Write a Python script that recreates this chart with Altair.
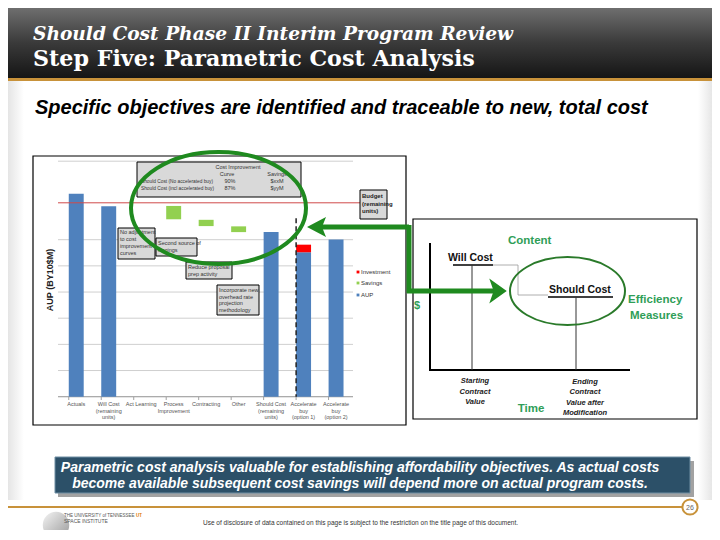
import altair as alt
import pandas as pd

# ---------------- data ----------------
categories = [
    "Actuals",
    "Will Cost\n(remaining\nunits)",
    "Act Learning",
    "Process\nImprovement",
    "Contracting",
    "Other",
    "Should Cost\n(remaining\nunits)",
    "Accelerate\nbuy\n(option 1)",
    "Accelerate\nbuy\n(option 2)",
]
bar_category = [categories[0], categories[1], categories[3], categories[4],
                categories[5], categories[6], categories[7], categories[7],
                categories[8]]
bar_start = [0, 0, 7.29, 6.76, 6.51, 0, 0, 5.52, 0]
bar_end = [7.76, 7.28, 6.78, 6.52, 6.29, 6.29, 5.52, 5.81, 6.01]
bar_series = ["AUP", "AUP", "Savings", "Savings", "Savings", "AUP", "AUP",
              "Investment", "AUP"]
series_names = ["Investment", "Savings", "AUP"]
series_colors = ["#ff0000", "#92d050", "#4f81bd"]
grid_values = [0, 1, 2, 3, 4, 5, 6, 9]
budget_value = 7.41
divider_top = 6.82

# ---------------- layout helpers ----------------
W, H = 704, 522
OFF = 8
one = pd.DataFrame({"k": [0]})
GREEN = "#1f8a1f"
TGREEN = "#2f9e57"


def X(v):
    return alt.value(v - OFF)


def Y(v):
    return alt.value(v - OFF)


def rect(x0, y0, x1, y1, **mk):
    return alt.Chart(one).mark_rect(**mk).encode(x=X(x0), x2=X(x1), y=Y(y0), y2=Y(y1))


def seg(x0, y0, x1, y1, **mk):
    return alt.Chart(one).mark_rule(**mk).encode(x=X(x0), x2=X(x1), y=Y(y0), y2=Y(y1))


def txt(x, y, s, **mk):
    mk.setdefault("font", "Liberation Sans")
    mk.setdefault("align", "left")
    mk.setdefault("baseline", "alphabetic")
    return alt.Chart(one).mark_text(lineBreak="\n", **mk).encode(
        x=X(x), y=Y(y), text=alt.value(s))


def sym(x, y, shape, size, **mk):
    return alt.Chart(one).mark_point(shape=shape, size=size, opacity=1, **mk).encode(
        x=X(x), y=Y(y))


layers = []

# slide background shading on the sides
layers.append(rect(0, 80, 24, 500, fill=alt.LinearGradient(
    gradient="linear", x1=0, x2=1, y1=0, y2=0,
    stops=[alt.GradientStop(offset=0, color="#d8d8d8"),
           alt.GradientStop(offset=1, color="#ffffff")])))
layers.append(rect(698, 80, 720, 500, fill=alt.LinearGradient(
    gradient="linear", x1=0, x2=1, y1=0, y2=0,
    stops=[alt.GradientStop(offset=0, color="#ffffff"),
           alt.GradientStop(offset=1, color="#d8d8d8")])))

# header
layers.append(rect(0, 0, 720, 78, fill=alt.LinearGradient(
    gradient="linear", x1=0, x2=0, y1=0, y2=1,
    stops=[alt.GradientStop(offset=0, color="#7a7a7a"),
           alt.GradientStop(offset=0.55, color="#3a3a3a"),
           alt.GradientStop(offset=1, color="#151515")])))
layers.append(rect(0, 78, 720, 81, fill="#c8923a"))
layers.append(txt(33, 40, "Should Cost Phase II Interim Program Review",
                  font="DejaVu Serif", fontSize=18.6, fontStyle="italic",
                  fontWeight="bold", color="white"))
layers.append(txt(33, 66, "Step Five:  Parametric Cost Analysis",
                  font="DejaVu Serif", fontSize=22.2, fontWeight="bold",
                  color="white"))
layers.append(txt(35, 114, "Specific objectives are identified and traceable to new, total cost",
                  fontSize=20, fontStyle="italic", fontWeight="bold", color="black"))

# ---------------- left chart (waterfall) ----------------
layers.append(rect(33, 156, 406, 425, fill="white", stroke="black", strokeWidth=1.2))

xs = alt.Scale(domain=categories, range=[60 - OFF, 352.3 - OFF],
               paddingInner=0.54, paddingOuter=0.27)
ys = alt.Scale(domain=[0, 9], range=[396.7 - OFF, 161.2 - OFF], nice=False, zero=False)

grid_df = pd.DataFrame({"v": grid_values})
layers.append(alt.Chart(grid_df).mark_rule(color="#cfcfcf", strokeWidth=1).encode(
    y=alt.Y("v:Q", scale=ys, axis=None), x=X(58), x2=X(353)))
layers.append(alt.Chart(pd.DataFrame({"v": [0]})).mark_rule(color="#a0a0a0", strokeWidth=1).encode(
    y=alt.Y("v:Q", scale=ys, axis=None), x=X(58), x2=X(353)))

cat_df = pd.DataFrame({"cat": categories})
layers.append(alt.Chart(cat_df).mark_rule(color="#a0a0a0").encode(
    x=alt.X("cat:N", scale=xs, axis=None, bandPosition=0), y=Y(397), y2=Y(400)))

bars_df = pd.DataFrame({"cat": bar_category, "start": bar_start,
                        "end": bar_end, "series": bar_series})
layers.append(alt.Chart(bars_df).mark_bar().encode(
    x=alt.X("cat:N", scale=xs, axis=None),
    y=alt.Y("start:Q", scale=ys, axis=None),
    y2="end:Q",
    color=alt.Color("series:N", scale=alt.Scale(domain=series_names, range=series_colors),
                    legend=None)))

layers.append(alt.Chart(pd.DataFrame({"v": [budget_value]})).mark_rule(
    color="#d04a4a", strokeWidth=1).encode(
    y=alt.Y("v:Q", scale=ys, axis=None), x=X(58), x2=X(360)))

layers.append(alt.Chart(pd.DataFrame({"cat": [categories[7]], "top": [divider_top], "bot": [0]}))
              .mark_rule(color="#222222", strokeWidth=1.5, strokeDash=[5, 3]).encode(
    x=alt.X("cat:N", scale=xs, axis=None, bandPosition=0),
    y=alt.Y("top:Q", scale=ys, axis=None), y2="bot:Q"))

layers.append(alt.Chart(cat_df).mark_text(lineBreak="\n", baseline="top", fontSize=5.5,
                                          font="Liberation Sans", color="#555555",
                                          lineHeight=6.5).encode(
    x=alt.X("cat:N", scale=xs, axis=None), y=Y(402), text="cat:N"))

layers.append(txt(53, 280, "AUP (BY10$M)", angle=270, align="center", fontSize=9,
                  fontWeight="bold", color="#222222"))

# annotation boxes
BOX = dict(fill="#d9d9d9", stroke="black", strokeWidth=1)
SMALL = dict(fontSize=5.5, color="#333333")
TINY = dict(fontSize=4.8, color="#333333")
layers.append(rect(137, 162, 301, 197, **BOX))
layers.append(txt(238, 169, "Cost Improvement", align="center", **SMALL))
layers.append(txt(227, 176, "Curve", align="center", **SMALL))
layers.append(txt(277, 176, "Savings", align="center", **SMALL))
layers.append(txt(141, 183, "Should Cost (No accelerated buy)", **TINY))
layers.append(txt(230, 183, "90%", align="center", **SMALL))
layers.append(txt(277, 183, "$xxM", align="center", **SMALL))
layers.append(txt(141, 190, "Should Cost (incl accelerated buy)", **TINY))
layers.append(txt(230, 190, "87%", align="center", **SMALL))
layers.append(txt(277, 190, "$yyM", align="center", **SMALL))

layers.append(rect(118, 228, 155, 259, **BOX))
layers.append(txt(120, 234, "No adjustment\nto cost\nimprovement\ncurves", lineHeight=7, **SMALL))
layers.append(rect(156, 238, 197, 256, **BOX))
layers.append(txt(158, 245, "Second source of\nforgings", lineHeight=7, **SMALL))
layers.append(rect(186, 262, 232, 279, **BOX))
layers.append(txt(188, 269, "Reduce proposal\nprep activity", lineHeight=7, **SMALL))
layers.append(rect(217, 285, 259, 315, **BOX))
layers.append(txt(219, 292, "Incorporate new\noverhead rate\nprojection\nmethodology", lineHeight=6.5, **SMALL))
layers.append(rect(360, 190, 387, 219, **BOX))
layers.append(txt(362, 198, "Budget\n(remaining\nunits)", lineHeight=7.5, fontSize=6,
                  fontWeight="bold", color="#222222"))

# legend
for i, (nm, col) in enumerate(zip(series_names, series_colors)):
    yy = [272, 283, 295][i]
    layers.append(sym(358, yy, "square", 8, filled=True, fill=col, strokeWidth=0))
    layers.append(txt(361, yy + 2, nm, fontSize=6, color="#333333"))

# ---------------- right diagram ----------------
layers.append(rect(413, 219, 697, 419, fill="white", stroke="black", strokeWidth=1.2))
layers.append(seg(430, 243, 430, 371, color="black", strokeWidth=2))
layers.append(seg(429, 370, 630, 370, color="black", strokeWidth=2))
layers.append(seg(453, 265, 493, 265, color="black", strokeWidth=1.5))
layers.append(seg(472, 265, 472, 370, color="#333333", strokeWidth=1))
layers.append(seg(493, 265, 518, 265, color="#999999", strokeWidth=0.8))
layers.append(seg(518, 265, 518, 295, color="#999999", strokeWidth=0.8))
layers.append(seg(518, 295, 548, 295, color="#999999", strokeWidth=0.8))
layers.append(seg(548, 297, 613, 297, color="black", strokeWidth=1.5))
layers.append(seg(576, 297, 576, 370, color="#333333", strokeWidth=1))
layers.append(txt(448, 261, "Will Cost", fontSize=10.5, fontWeight="bold", color="#111111"))
layers.append(txt(549, 293, "Should Cost", fontSize=10.5, fontWeight="bold", color="#111111"))
layers.append(txt(508, 244, "Content", fontSize=11.5, fontWeight="bold", color=TGREEN))
layers.append(txt(414, 309, "$", fontSize=11, fontWeight="bold", color=TGREEN))
layers.append(txt(628, 303, "Efficiency", fontSize=11.5, fontWeight="bold", color=TGREEN))
layers.append(txt(630, 319, "Measures", fontSize=11.5, fontWeight="bold", color=TGREEN))
layers.append(txt(531, 412, "Time", align="center", fontSize=11.5, fontWeight="bold", color=TGREEN))
layers.append(txt(475, 383, "Starting\nContract\nValue", align="center", fontSize=7.5,
                  fontStyle="italic", fontWeight="bold", lineHeight=10.5, color="#222222"))
layers.append(txt(585, 384, "Ending\nContract\nValue after\nModification", align="center",
                  fontSize=7.5, fontStyle="italic", fontWeight="bold", lineHeight=10.3,
                  color="#222222"))

# ellipses and arrows
ELL = "M -1 0 A 1 0.64 0 1 1 1 0 A 1 0.64 0 1 1 -1 0 Z"
ELL2 = "M -1 0 A 1 0.59 0 1 1 1 0 A 1 0.59 0 1 1 -1 0 Z"
layers.append(sym(218.5, 208, ELL, 175 ** 2, filled=False, stroke=GREEN, strokeWidth=4))
layers.append(sym(567.5, 291, ELL2, 115 ** 2, filled=False, stroke="#2a7a2a", strokeWidth=2))
layers.append(seg(322, 227, 409, 227, color=GREEN, strokeWidth=5))
layers.append(seg(409, 225, 409, 293, color=GREEN, strokeWidth=5))
layers.append(seg(407, 291, 494, 291, color=GREEN, strokeWidth=5))
layers.append(sym(316.5, 227, "M -0.95 0 L 0.95 -1 L 0.55 0 L 0.95 1 Z", 400,
                  filled=True, fill=GREEN, strokeWidth=0))
layers.append(sym(498, 291, "M 0.7 0 L -0.7 -1 L -0.35 0 L -0.7 1 Z", 625,
                  filled=True, fill=GREEN, strokeWidth=0))

# ---------------- bottom message box ----------------
layers.append(rect(58, 461, 694, 497, fill="#555555", opacity=0.55))
layers.append(rect(55, 457, 690, 493, fill="#2c5068", stroke="#6f8ea3", strokeWidth=1))
layers.append(txt(360, 472, "Parametric cost analysis valuable for establishing affordability objectives.  As actual costs",
                  align="center", fontSize=14, fontStyle="italic", fontWeight="bold", color="white"))
layers.append(txt(360, 488, "become available subsequent cost savings will depend more on actual program costs.",
                  align="center", fontSize=14, fontStyle="italic", fontWeight="bold", color="white"))

# ---------------- footer ----------------
layers.append(seg(0, 507, 683, 507, color="#c8923a", strokeWidth=2))
layers.append(sym(690, 507, "circle", 230, filled=True, fill="white", stroke="#c8923a", strokeWidth=2))
layers.append(txt(690, 509.5, "26", align="center", fontSize=7, color="#666666"))
layers.append(sym(56, 525, "circle", 700, filled=True, fill=alt.LinearGradient(
    gradient="linear", x1=0, x2=1, y1=0, y2=1,
    stops=[alt.GradientStop(offset=0, color="#f4f4f4"),
           alt.GradientStop(offset=1, color="#9a9a9a")]), strokeWidth=0))
layers.append(txt(64, 517, "THE UNIVERSITY of TENNESSEE", fontSize=4.5, color="#555555"))
layers.append(txt(136, 517, "UT", fontSize=4.5, fontWeight="bold", color="#e07b00"))
layers.append(txt(64, 523, "SPACE INSTITUTE", fontSize=5, color="#555555"))
layers.append(txt(203, 525, "Use of disclosure of data contained on this page is subject to the restriction on the title page of this document.",
                  fontSize=6.5, color="#333333"))

chart = alt.layer(*layers).properties(
    width=W, height=H, padding=0, autosize="none", background="white"
).configure_view(stroke=None)

chart.save("out.html", embed_options={"renderer": "svg", "actions": False})
